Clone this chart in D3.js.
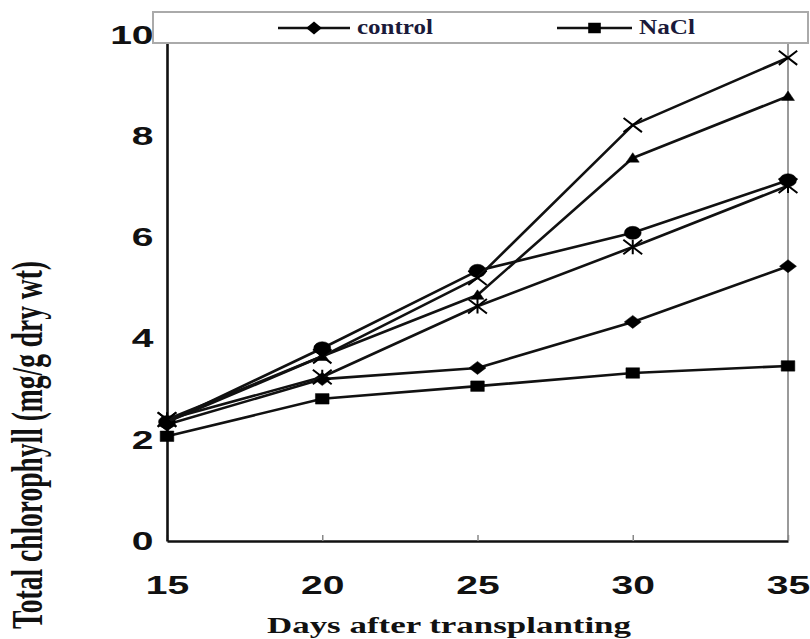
<!DOCTYPE html>
<html>
<head>
<meta charset="utf-8">
<script src="https://cdn.jsdelivr.net/npm/d3@7"></script>
<style>
  body { margin: 0; background: #fff; }
  svg { display: block; }
</style>
</head>
<body>
<div id="chart"></div>
<script>
// data
const days = [15, 20, 25, 30, 35];
const control = [2.3, 3.2, 3.42, 4.33, 5.43];      // diamond
const nacl = [2.07, 2.81, 3.06, 3.32, 3.46];        // square
const seriesTriangle = [2.35, 3.65, 4.86, 7.57, 8.79];
const seriesCross = [2.4, 3.65, 5.2, 8.22, 9.55];
const seriesStar = [2.4, 3.24, 4.64, 5.81, 7.02];
const seriesCircle = [2.35, 3.81, 5.34, 6.09, 7.13];
const yTicks = [0, 2, 4, 6, 8, 10];
const legendNames = ["control", "NaCl"];

const W = 810, H = 639;
const plot = { left: 167, right: 788, top: 35, bottom: 541 };
const sx = 1.5;   // the picture is stretched sideways

// custom markers
const diamond = { draw(c, s) { const r = Math.sqrt(s) / 2; c.moveTo(0, -r); c.lineTo(r, 0); c.lineTo(0, r); c.lineTo(-r, 0); c.closePath(); } };
const square = { draw(c, s) { const r = Math.sqrt(s) / 2; c.rect(-r, -r, 2 * r, 2 * r); } };
const triangle = { draw(c, s) { const r = Math.sqrt(s) / 2; c.moveTo(0, -r); c.lineTo(r * 0.95, r * 0.8); c.lineTo(-r * 0.95, r * 0.8); c.closePath(); } };
const cross = { draw(c, s) { const r = Math.sqrt(s) / 2; c.moveTo(-r, -r); c.lineTo(r, r); c.moveTo(r, -r); c.lineTo(-r, r); } };
const star = { draw(c, s) { const r = Math.sqrt(s) / 2; c.moveTo(-r, -r); c.lineTo(r, r); c.moveTo(r, -r); c.lineTo(-r, r); c.moveTo(0, -r); c.lineTo(0, r); } };
const circle = { draw(c, s) { const r = Math.sqrt(s) / 2; c.moveTo(r, 0); c.arc(0, 0, r, 0, 2 * Math.PI); } };

const series = [
  { values: nacl, type: square, size: 110, fill: true },
  { values: control, type: diamond, size: 170, fill: true },
  { values: seriesStar, type: star, size: 210, fill: false },
  { values: seriesCircle, type: circle, size: 170, fill: true },
  { values: seriesTriangle, type: triangle, size: 110, fill: true },
  { values: seriesCross, type: cross, size: 200, fill: false }
];

const svg = d3.select("#chart").append("svg")
  .attr("width", W)
  .attr("height", H);

const x = d3.scaleLinear().domain([15, 35]).range([plot.left, plot.right]);
const y = d3.scaleLinear().domain([0, 10]).range([plot.bottom, plot.top]);

// right border of plot area
svg.append("line")
  .attr("x1", plot.right).attr("x2", plot.right)
  .attr("y1", plot.top).attr("y2", plot.bottom)
  .attr("stroke", "#9a9a9a")
  .attr("stroke-width", 2);

// x axis
const xAxis = svg.append("g")
  .attr("transform", `translate(0,${plot.bottom})`)
  .call(d3.axisBottom(x).tickValues(days).tickSizeInner(-6).tickSizeOuter(0).tickPadding(35).tickFormat(d3.format("d")));
xAxis.select(".domain").attr("stroke", "#111").attr("stroke-width", 2.6);
xAxis.selectAll(".tick line").attr("stroke", "#888").attr("stroke-width", 1.5);
xAxis.selectAll(".tick text")
  .attr("font-family", "'Liberation Sans', Arial, sans-serif")
  .attr("font-weight", "bold")
  .attr("font-size", 26)
  .attr("fill", "#111")
  .attr("transform", `scale(${sx},1)`);

// y axis
const yAxis = svg.append("g")
  .attr("transform", `translate(${plot.left},0)`)
  .call(d3.axisLeft(y).tickValues(yTicks).tickSize(0).tickPadding(9).tickFormat(d3.format("d")));
yAxis.select(".domain").attr("stroke", "#111").attr("stroke-width", 2.6);
yAxis.selectAll(".tick text")
  .attr("font-family", "'Liberation Sans', Arial, sans-serif")
  .attr("font-weight", "bold")
  .attr("font-size", 26)
  .attr("fill", "#111")
  .attr("transform", `scale(${sx},1)`);

// lines and markers
const line = d3.line()
  .x((d, i) => x(days[i]))
  .y(d => y(d));

series.forEach(s => {
  svg.append("path")
    .datum(s.values)
    .attr("d", line)
    .attr("fill", "none")
    .attr("stroke", "#111")
    .attr("stroke-width", 2.6)
    .attr("stroke-linejoin", "round");

  svg.append("g")
    .selectAll("path")
    .data(s.values)
    .join("path")
    .attr("d", d3.symbol().type(s.type).size(s.size))
    .attr("transform", (d, i) => `translate(${x(days[i])},${y(d)}) scale(1.3,1)`)
    .attr("fill", s.fill ? "#000" : "none")
    .attr("stroke", "#000")
    .attr("stroke-width", s.fill ? 0.5 : 2)
    .attr("vector-effect", "non-scaling-stroke");
});

// legend box (covers the top of the plot)
const legend = svg.append("g");
legend.append("rect")
  .attr("x", 153).attr("y", 12)
  .attr("width", 655).attr("height", 31)
  .attr("fill", "#fff")
  .attr("stroke", "#aaa")
  .attr("stroke-width", 2);

const legendItems = [
  { name: legendNames[0], type: diamond, size: 170, x1: 278, x2: 350, tx: 357, tl: 76 },
  { name: legendNames[1], type: square, size: 110, x1: 557, x2: 632, tx: 639, tl: 56 }
];
legendItems.forEach(it => {
  legend.append("line")
    .attr("x1", it.x1).attr("x2", it.x2)
    .attr("y1", 28).attr("y2", 28)
    .attr("stroke", "#111")
    .attr("stroke-width", 2.4);
  legend.append("path")
    .attr("d", d3.symbol().type(it.type).size(it.size))
    .attr("transform", `translate(${(it.x1 + it.x2) / 2},28) scale(1.2,1)`)
    .attr("fill", "#000");
  legend.append("text")
    .attr("x", it.tx).attr("y", 34)
    .attr("font-family", "'Liberation Serif', 'Times New Roman', serif")
    .attr("font-weight", "bold")
    .attr("font-size", 20)
    .attr("fill", "#1a1a3a")
    .attr("textLength", it.tl)
    .attr("lengthAdjust", "spacingAndGlyphs")
    .text(it.name);
});

// axis titles
svg.append("text")
  .attr("x", 267).attr("y", 633)
  .attr("font-family", "'Liberation Serif', 'Times New Roman', serif")
  .attr("font-weight", "bold")
  .attr("font-size", 23)
  .attr("fill", "#111")
  .attr("textLength", 364)
  .attr("lengthAdjust", "spacingAndGlyphs")
  .text("Days after transplanting");

svg.append("g")
  .attr("transform", "translate(42,445) scale(1.75,1) rotate(-90)")
  .append("text")
  .attr("x", -184).attr("y", 0)
  .attr("font-family", "'Liberation Serif', 'Times New Roman', serif")
  .attr("font-weight", "bold")
  .attr("font-size", 25)
  .attr("fill", "#111")
  .attr("textLength", 368)
  .attr("lengthAdjust", "spacingAndGlyphs")
  .text("Total chlorophyll (mg/g dry wt)");
</script>
</body>
</html>
